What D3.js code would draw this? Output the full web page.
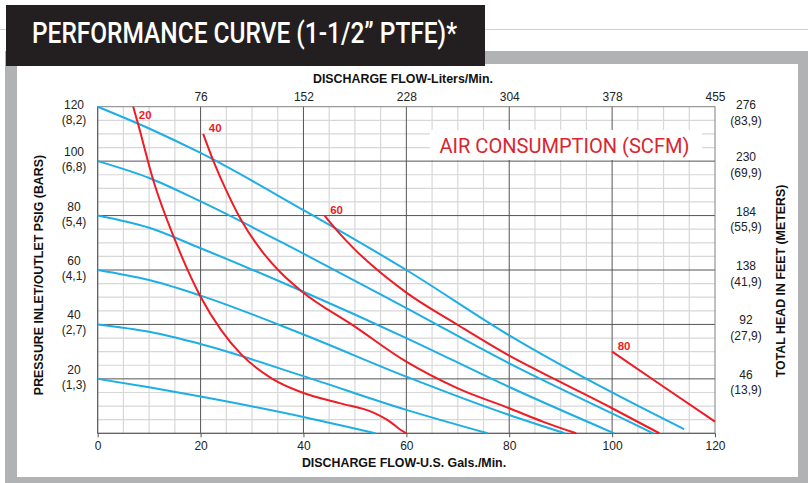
<!DOCTYPE html>
<html><head><meta charset="utf-8">
<script src="https://cdn.jsdelivr.net/npm/d3@7"></script>
<style>
html,body{margin:0;padding:0;background:#fff;}
svg{display:block;}
</style></head><body>
<svg id="chart" width="808" height="483"></svg>
<script>
// ---------- data ----------
const gpmTicks = [0, 20, 40, 60, 80, 100, 120];
const lpmTickValues = [20, 40, 60, 80, 100, 120];
const lpmLabels = ["76", "152", "228", "304", "378", "455"];
const psiTicks = [20, 40, 60, 80, 100, 120];
const psiBars = ["(1,3)", "(2,7)", "(4,1)", "(5,4)", "(6,8)", "(8,2)"];
const headFeet = ["46", "92", "138", "184", "230", "276"];
const headMeters = ["(13,9)", "(27,9)", "(41,9)", "(55,9)", "(69,9)", "(83,9)"];

// pressure curves (blue): [gpm, psi]
const pressure120 = [[0,120],[10,112],[20,103],[40,82],[60,60],[80,36],[100,15],[114,1.5]];
const pressure100 = [[0,100],[10,93.8],[20,85.2],[40,66],[60,46],[80,25.7],[100,7.3],[108,0]];
const pressure80  = [[0,80],[10,75.5],[20,68],[40,52],[60,35],[80,17],[100.4,0]];
const pressure60  = [[0,60],[10,56.3],[20,50.6],[40,36.3],[60,20.8],[80,6.7],[90.8,0]];
const pressure40  = [[0,40],[10,37.3],[20,32.8],[40,21],[60,8.6],[75.8,0]];
const pressure20  = [[0,20],[10,16.9],[20,13.5],[40,6],[54,0]];

// air consumption curves (red): [gpm, psi]
const air20 = [[6.9,120],[7.8,114],[10.8,93],[14.9,71.6],[20,50.2],[24,37.9],[28,28.8],[33.8,20.2],[40,14.8],[47,11.1],[53.6,7.6],[56.8,4.3],[58.7,1.5],[60,0]];
const air40 = [[20.5,110],[22.4,100.5],[25.4,87.6],[28,78],[31.8,67.2],[35.7,58.8],[39.5,52.4],[50,39.2],[60,26.3],[70,16.5],[80,9.2],[86.5,4.3],[93,0]];
const air60 = [[44.1,80],[46.7,74.1],[50,67.5],[53.2,61.9],[60,51.7],[70,39.8],[80,28.5],[90,18.8],[100,9.2],[109.2,0]];
const air80 = [[100,30],[110,17.1],[120,4.3]];

const pressureSeries = [pressure120, pressure100, pressure80, pressure60, pressure40, pressure20];
const airSeries = [air20, air40, air60, air80];
const airLabels = ["20", "40", "60", "80"];

// ---------- drawing ----------
const svg = d3.select("#chart");
const BLUE = "#1eaee6", RED = "#ee1c24";

// frame
svg.append("line").attr("x1", 0).attr("x2", 808).attr("y1", 29.5).attr("y2", 29.5)
  .attr("stroke", "#cfcfcf").attr("stroke-width", 1);
svg.append("rect").attr("x", 5).attr("y", 51).attr("width", 803).attr("height", 432).attr("fill", "#b1b2b4");
svg.append("rect").attr("x", 17).attr("y", 64).attr("width", 781).attr("height", 413).attr("fill", "#fff");

// title box
svg.append("rect").attr("x", 6).attr("y", 5).attr("width", 479).attr("height", 61).attr("fill", "#231f20");
svg.append("text").attr("x", 32).attr("y", 43)
  .attr("fill", "#fff").attr("font-family", "Roboto, 'Noto Sans', sans-serif")
  .attr("font-weight", 500)
  .attr("font-size", 29.5).attr("textLength", 425).attr("lengthAdjust", "spacingAndGlyphs")
  .text("PERFORMANCE CURVE (1-1/2\u201D PTFE)*");

const x = d3.scaleLinear().domain([0, 120]).range([97.7, 715]);
const y = d3.scaleLinear().domain([0, 120]).range([433.3, 106.7]);

const grid = svg.append("g");
const minor = d3.range(5, 120, 5).filter(v => v % 20 !== 0);
const major = [20, 40, 60, 80, 100];

grid.selectAll(".vmin").data(minor).join("line")
  .attr("x1", d => x(d)).attr("x2", d => x(d)).attr("y1", y(0)).attr("y2", y(120))
  .attr("stroke", "#d7d7d7").attr("stroke-width", 1.2);
grid.selectAll(".hmin").data(minor).join("line")
  .attr("x1", x(0)).attr("x2", x(120)).attr("y1", d => y(d)).attr("y2", d => y(d))
  .attr("stroke", "#d7d7d7").attr("stroke-width", 1.2);
grid.selectAll(".vmaj").data(major).join("line")
  .attr("x1", d => x(d)).attr("x2", d => x(d)).attr("y1", y(0)).attr("y2", y(120))
  .attr("stroke", "#555").attr("stroke-width", 1);
grid.selectAll(".hmaj").data(major).join("line")
  .attr("x1", x(0)).attr("x2", x(120)).attr("y1", d => y(d)).attr("y2", d => y(d))
  .attr("stroke", "#555").attr("stroke-width", 1);
// border
grid.append("rect").attr("x", x(0)).attr("y", y(120)).attr("width", x(120) - x(0)).attr("height", y(0) - y(120))
  .attr("fill", "none").attr("stroke", "#808080").attr("stroke-width", 1);
grid.append("line").attr("x1", x(0)).attr("x2", x(0)).attr("y1", y(0)).attr("y2", y(120)).attr("stroke", "#555");
grid.append("line").attr("x1", x(0)).attr("x2", x(120)).attr("y1", y(0)).attr("y2", y(0)).attr("stroke", "#555");

// air consumption legend box
svg.append("rect").attr("x", 430).attr("y", 130).attr("width", 272).attr("height", 30).attr("fill", "#fff");
svg.append("text").attr("x", 439.5).attr("y", 152.5)
  .attr("fill", "#d9262f").attr("font-family", "Roboto, 'Noto Sans', sans-serif")
  .attr("font-size", 21).attr("textLength", 250).attr("lengthAdjust", "spacingAndGlyphs")
  .text("AIR CONSUMPTION (SCFM)");

// curves
const line = d3.line().x(d => x(d[0])).y(d => y(d[1])).curve(d3.curveMonotoneX);
svg.append("g").selectAll("path").data(pressureSeries).join("path")
  .attr("d", line).attr("fill", "none").attr("stroke", BLUE).attr("stroke-width", 2);
svg.append("g").selectAll("path").data(airSeries).join("path")
  .attr("d", line).attr("fill", "none").attr("stroke", RED).attr("stroke-width", 2);
svg.append("g").selectAll("text").data(airSeries).join("text")
  .attr("x", d => x(d[0][0]) + 12)
  .attr("y", d => Math.max(y(d[0][1]) - 2, 119))
  .attr("text-anchor", "middle")
  .attr("fill", RED).attr("font-family", "'Liberation Sans', Arial, sans-serif")
  .attr("font-weight", "bold").attr("font-size", 11.5)
  .text((d, i) => airLabels[i]);

// axes
const tickFont = "'Liberation Sans', Arial, sans-serif";
const bottomAxis = svg.append("g").attr("transform", `translate(0,${y(0)})`)
  .call(d3.axisBottom(x).tickValues(gpmTicks).tickSize(4).tickPadding(4.2));
bottomAxis.select(".domain").remove();
bottomAxis.selectAll("line").attr("stroke", "#555");
bottomAxis.selectAll("text").attr("font-family", tickFont).attr("font-size", 12).attr("fill", "#222");

const topAxis = svg.append("g").attr("transform", `translate(0,${y(120)})`)
  .call(d3.axisTop(x).tickValues(lpmTickValues).tickFormat((d, i) => lpmLabels[i]).tickSize(0).tickPadding(5.7));
topAxis.select(".domain").remove();
topAxis.selectAll("text").attr("font-family", tickFont).attr("font-size", 12).attr("fill", "#222");

// left psi / bar labels
const leftG = svg.append("g").attr("font-family", tickFont).attr("font-size", 12).attr("fill", "#222").attr("text-anchor", "middle");
psiTicks.forEach((p, i) => {
  const b = Math.max(y(p) - 5, 109.3);
  const t = leftG.append("text");
  t.append("tspan").attr("x", 74).attr("y", b).text(p);
  t.append("tspan").attr("x", 74).attr("y", b + 15).text(psiBars[i]);
});
// right head labels
const rightG = svg.append("g").attr("font-family", tickFont).attr("font-size", 12).attr("fill", "#222").attr("text-anchor", "middle");
psiTicks.forEach((p, i) => {
  const b = Math.max(y(p), 109);
  const t = rightG.append("text");
  t.append("tspan").attr("x", 746).attr("y", b).text(headFeet[i]);
  t.append("tspan").attr("x", 746).attr("y", b + 15.5).text(headMeters[i]);
});

// axis titles
const titleAttrs = sel => sel.attr("font-family", tickFont).attr("font-weight", "bold")
  .attr("font-size", 12.4).attr("fill", "#111").attr("text-anchor", "middle");
svg.append("text").call(titleAttrs).attr("x", 403).attr("y", 83).text("DISCHARGE FLOW-Liters/Min.");
svg.append("text").call(titleAttrs).attr("x", 404).attr("y", 467).text("DISCHARGE FLOW-U.S. Gals./Min.");
svg.append("text").call(titleAttrs).attr("transform", "translate(42.7,275) rotate(-90)").text("PRESSURE INLET/OUTLET PSIG (BARS)");
svg.append("text").call(titleAttrs).attr("transform", "translate(785,281) rotate(-90)").text("TOTAL HEAD IN FEET (METERS)");
</script>
</body></html>
